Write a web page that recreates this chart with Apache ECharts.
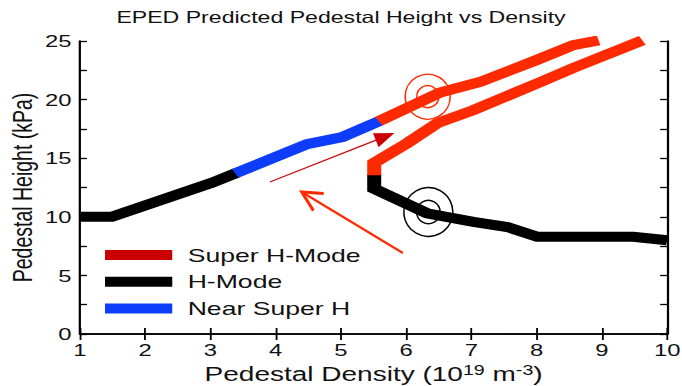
<!DOCTYPE html>
<html>
<head>
<meta charset="utf-8">
<script src="https://cdn.jsdelivr.net/npm/echarts@6/dist/echarts.min.js"></script>
<style>
  html, body { margin: 0; padding: 0; background: #fff; }
  #wrap { width: 682px; height: 386px; overflow: hidden; }
  /* figure is laid out narrow and widened horizontally, like the original slide graphic */
  #chart { width: 487px; height: 386px; transform: scaleX(1.40041); transform-origin: 0 0; }
</style>
</head>
<body>
<div id="wrap"><div id="chart"></div></div>
<script>
// Pedestal density (1e19 m^-3) vs pedestal height (kPa), per branch
const hModeLow = [[1.0, 10.0], [1.49, 10.0], [3.02, 12.9], [3.40, 13.75]];
const nearSuperH = [[3.38, 13.7], [4.48, 16.2], [5.02, 16.8], [5.60, 18.2]];
const superHUpper = [[5.58, 18.15], [6.52, 20.6], [7.13, 21.5], [8.01, 23.4], [8.56, 24.65], [8.95, 25.05]];
const superHLower = [[5.51, 13.55], [5.51, 14.6], [6.02, 16.3], [6.48, 18.0], [7.03, 19.1], [8.06, 21.5], [8.56, 22.7], [9.62, 25.05]];
const hModeHigh = [[5.51, 13.6], [5.51, 12.4], [6.32, 10.3], [7.03, 9.56], [7.55, 9.13], [8.01, 8.3], [9.48, 8.3], [10.0, 8.0]];

// Operating points marked with rings, and the two trajectory arrows (from -> to)
const ringPoints = [[6.33, 20.25], [6.34, 10.41]];
const arrowPaths = [[3.91, 12.97, 5.82, 17.15], [5.95, 6.91, 4.40, 12.12]];

const legendNames = ['Super H-Mode', 'H-Mode', 'Near Super H'];
const xTicks = [1, 2, 3, 4, 5, 6, 7, 8, 9, 10];
const yTicks = [0, 5, 10, 15, 20, 25];

const S = 682 / 487;
const FONT = '"Liberation Sans", Arial, Helvetica, sans-serif';
const RED = '#ff2a00', DARK_RED = '#cc0000', BLUE = '#0d3dfa', BLACK = '#000000';

const chart = echarts.init(document.getElementById('chart'), null, { renderer: 'svg' });

function lineSeries(name, data, color) {
  return {
    type: 'line', name, data, showSymbol: false, symbol: 'none', clip: true, silent: true,
    lineStyle: { color, width: 10, cap: 'butt', join: 'miter' },
    itemStyle: { color }
  };
}

function ringItem(params, api) {
  const c = api.coord([api.value(0), api.value(1)]);
  const color = params.dataIndex === 0 ? RED : BLACK;
  const radii = params.dataIndex === 0 ? [22.5, 11] : [24.5, 11.7];
  return {
    type: 'group', x: c[0], y: c[1], scaleX: 1 / S,
    children: radii.map(r => ({
      type: 'circle', shape: { cx: 0, cy: 0, r },
      style: { fill: 'none', stroke: color, lineWidth: 1.5 }
    }))
  };
}

function arrowItem(params, api) {
  const a = api.coord([api.value(0), api.value(1)]);
  const b = api.coord([api.value(2), api.value(3)]);
  const p0 = [a[0] * S, a[1]], p1 = [b[0] * S, b[1]];
  const dx = p1[0] - p0[0], dy = p1[1] - p0[1];
  const L = Math.hypot(dx, dy), ux = dx / L, uy = dy / L;
  const children = [];
  if (params.dataIndex === 0) {
    const hl = 20, hw = 7.5;
    const base = [p1[0] - ux * hl, p1[1] - uy * hl];
    children.push({ type: 'line', shape: { x1: p0[0], y1: p0[1], x2: base[0] + ux * 3, y2: base[1] + uy * 3 },
      style: { stroke: DARK_RED, lineWidth: 1.3 } });
    children.push({ type: 'polygon', shape: { points: [p1, [base[0] - uy * hw, base[1] + ux * hw], [base[0] + uy * hw, base[1] - ux * hw]] },
      style: { fill: DARK_RED } });
  } else {
    const al = 22, ang = 27 * Math.PI / 180;
    const bx = -ux, by = -uy;
    const arm = s => [p1[0] + al * (bx * Math.cos(s * ang) - by * Math.sin(s * ang)),
                      p1[1] + al * (bx * Math.sin(s * ang) + by * Math.cos(s * ang))];
    children.push({ type: 'line', shape: { x1: p0[0], y1: p0[1], x2: p1[0], y2: p1[1] },
      style: { stroke: RED, lineWidth: 2.2 } });
    children.push({ type: 'polyline', shape: { points: [arm(1), p1, arm(-1)] },
      style: { stroke: RED, lineWidth: 3, fill: 'none', lineJoin: 'miter' } });
  }
  return { type: 'group', scaleX: 1 / S, children };
}

const axisLineStyle = { lineStyle: { color: BLACK, width: 1.6 } };

chart.setOption({
  animation: false,
  backgroundColor: '#ffffff',
  textStyle: { fontFamily: FONT },
  title: {
    text: 'EPED Predicted Pedestal Height vs Density',
    left: 'center', top: 4,
    textStyle: { fontFamily: FONT, fontSize: 16.5, fontWeight: 'normal', color: '#111' }
  },
  grid: { left: 57.1, right: 10.6, top: 41, bottom: 52, outerBoundsMode: 'none', containLabel: false },
  legend: {
    orient: 'vertical', left: 75, top: 245, padding: 0,
    itemWidth: 48, itemHeight: 10, itemGap: 6.8, icon: 'rect',
    selectedMode: false,
    itemStyle: { borderWidth: 0 },
    textStyle: { fontFamily: FONT, fontSize: 19, color: '#111', lineHeight: 20, padding: [0, 0, 0, 6] },
    data: [
      { name: legendNames[0], itemStyle: { color: DARK_RED } },
      { name: legendNames[1], itemStyle: { color: BLACK } },
      { name: legendNames[2], itemStyle: { color: BLUE } }
    ]
  },
  xAxis: [{
    type: 'value', min: xTicks[0], max: xTicks[xTicks.length - 1], interval: 1,
    axisLine: axisLineStyle,
    axisTick: { inside: true, length: 6, lineStyle: { color: BLACK, width: 1.3 } },
    axisLabel: { fontFamily: FONT, fontSize: 17, color: '#111', margin: 7 },
    splitLine: { show: false },
    name: '{n|Pedestal Density (10}{s|19}{n| m}{s|-3}{n|)}',
    nameLocation: 'middle', nameGap: 29,
    nameTextStyle: {
      rich: {
        n: { fontFamily: FONT, fontSize: 20, color: '#111' },
        s: { fontFamily: FONT, fontSize: 14, color: '#111', padding: [0, 0, 9, 0] }
      }
    }
  }, {
    type: 'value', position: 'top', min: 1, max: 10, interval: 1,
    axisLine: axisLineStyle,
    axisTick: { inside: true, length: 6, lineStyle: { color: BLACK, width: 1.3 } },
    axisLabel: { show: false }, splitLine: { show: false }
  }],
  yAxis: [{
    type: 'value', min: yTicks[0], max: yTicks[yTicks.length - 1], interval: 5,
    axisLine: axisLineStyle,
    axisTick: { inside: true, length: 5, lineStyle: { color: BLACK, width: 1.3 } },
    minorTick: { show: true, splitNumber: 2, length: 5, lineStyle: { color: BLACK, width: 1.3 } },
    axisLabel: { fontFamily: FONT, fontSize: 17, color: '#111', margin: 6 },
    splitLine: { show: false },
    name: 'Pedestal Height (kPa)', nameLocation: 'middle', nameGap: 31, nameRotate: 90,
    nameMoveOverlap: false,
    nameTextStyle: { fontFamily: FONT, fontSize: 19.5, color: '#111' }
  }, {
    type: 'value', position: 'right', min: 0, max: 25, interval: 5,
    axisLine: axisLineStyle,
    axisTick: { inside: true, length: 5, lineStyle: { color: BLACK, width: 1.3 } },
    minorTick: { show: true, splitNumber: 2, length: 5, lineStyle: { color: BLACK, width: 1.3 } },
    axisLabel: { show: false }, splitLine: { show: false }
  }],
  series: [
    lineSeries(legendNames[1], hModeLow, BLACK),
    lineSeries(legendNames[1], hModeHigh, BLACK),
    lineSeries(legendNames[2], nearSuperH, BLUE),
    lineSeries(legendNames[0], superHUpper, RED),
    lineSeries(legendNames[0], superHLower, RED),
    { type: 'custom', silent: true, clip: false, renderItem: ringItem, data: ringPoints, z: 5 },
    { type: 'custom', silent: true, clip: false, renderItem: arrowItem, data: arrowPaths, z: 5 }
  ]
});
</script>
</body>
</html>
